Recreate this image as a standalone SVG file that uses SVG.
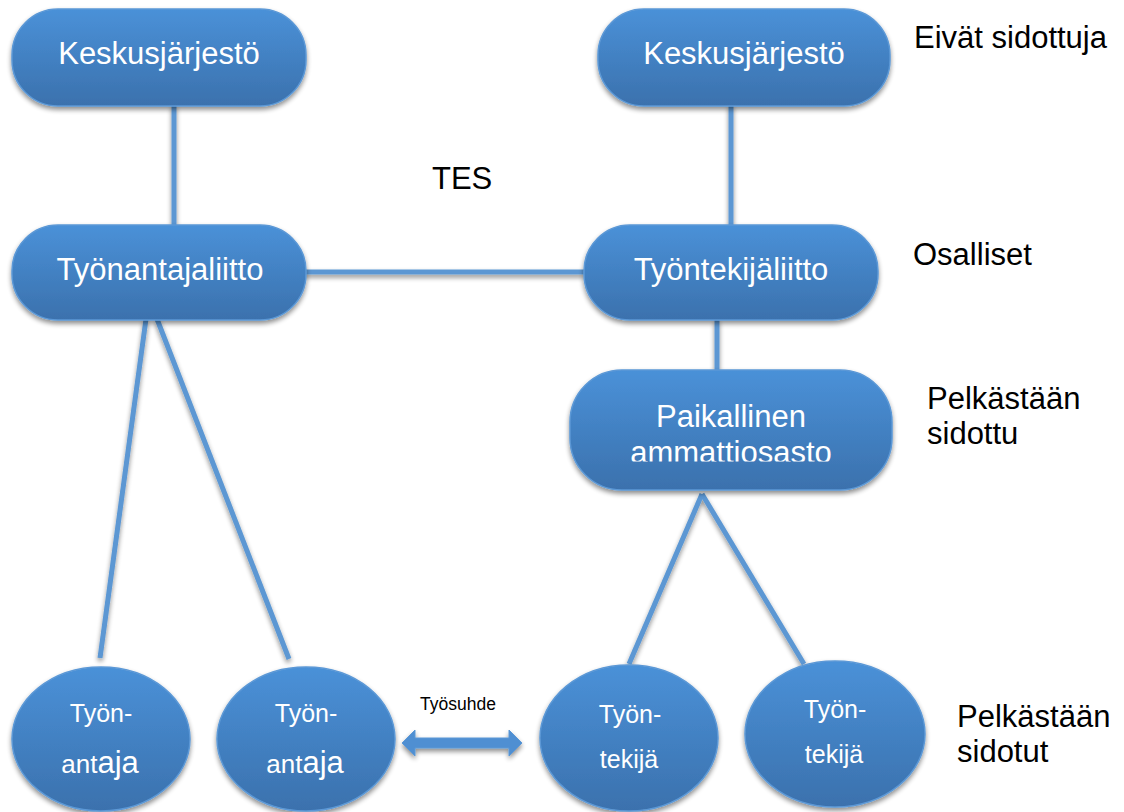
<svg xmlns="http://www.w3.org/2000/svg" width="1124" height="812" viewBox="0 0 1124 812">
<defs>
<linearGradient id="g" x1="0" y1="0" x2="0" y2="1">
<stop offset="0" stop-color="#4a91d8"/>
<stop offset="1" stop-color="#3b71ad"/>
</linearGradient>
<filter id="sh" x="-20%" y="-20%" width="140%" height="150%">
<feGaussianBlur in="SourceAlpha" stdDeviation="2.5"/>
<feOffset dx="0" dy="3" result="b"/>
<feComponentTransfer><feFuncA type="linear" slope="0.45"/></feComponentTransfer>
<feMerge><feMergeNode/><feMergeNode in="SourceGraphic"/></feMerge>
</filter>
<clipPath id="clipP"><rect x="570" y="370" width="322" height="91.5"/></clipPath>
<style>
.node{fill:url(#g);stroke:#5b98d6;stroke-width:1.5;filter:url(#sh)}
.nt{font-family:"Liberation Sans",Arial,sans-serif;fill:#ffffff;text-anchor:middle}
.lbl{font-family:"Liberation Sans",Arial,sans-serif;fill:#000000;font-size:31px}
.small{font-family:"Liberation Sans",Arial,sans-serif;fill:#000000;font-size:17.5px;text-anchor:middle}
.con{stroke:#5b97d3;stroke-width:5;fill:none}
</style>
</defs>
<rect width="1124" height="812" fill="#ffffff"/>
<g id="connectors" filter="url(#sh)">
<line class="con" x1="174" y1="104" x2="174" y2="226"/>
<line class="con" x1="731" y1="104" x2="731" y2="226"/>
<line class="con" x1="304" y1="272" x2="585" y2="272"/>
<line class="con" x1="717" y1="319" x2="717" y2="371"/>
<line class="con" x1="146" y1="319" x2="100" y2="658"/>
<line class="con" x1="157" y1="319" x2="289" y2="659"/>
<line class="con" x1="702" y1="494" x2="629" y2="664"/>
<line class="con" x1="702" y1="494" x2="804" y2="664"/>
<path d="M402,743 L415,730 L415,738 L509,738 L509,730 L522,743 L509,756 L509,748 L415,748 L415,756 Z" fill="#4f8fd2" stroke="#5b98d6" stroke-width="1"/>
</g>
<g id="n1"><rect class="node" x="12" y="9" width="294" height="97" rx="46"/><text class="nt" x="159" y="64" font-size="31">Keskusjärjestö</text></g>
<g id="n2"><rect class="node" x="598" y="9" width="292" height="97" rx="46"/><text class="nt" x="744" y="64" font-size="31">Keskusjärjestö</text></g>
<g id="n3"><rect class="node" x="12" y="225" width="294" height="95" rx="46"/><text class="nt" x="160" y="280" font-size="31">Työnantajaliitto</text></g>
<g id="n4"><rect class="node" x="584" y="225" width="294" height="95" rx="46"/><text class="nt" x="731" y="280" font-size="31">Työntekijäliitto</text></g>
<g id="n5"><rect class="node" x="570" y="370" width="322" height="120" rx="52"/><g clip-path="url(#clipP)"><text class="nt" x="731" y="427" font-size="31">Paikallinen</text><text class="nt" x="731" y="463" font-size="31">ammattiosasto</text></g></g>
<g id="n6"><ellipse class="node" cx="101" cy="739" rx="89" ry="72"/><text class="nt" x="101" y="722" font-size="25">Työn-</text><text class="nt" x="100" y="773" font-size="26">ant<tspan font-size="31">aja</tspan></text></g>
<g id="n7"><ellipse class="node" cx="306" cy="739" rx="89" ry="72"/><text class="nt" x="306" y="722" font-size="25">Työn-</text><text class="nt" x="305" y="773" font-size="26">ant<tspan font-size="31">aja</tspan></text></g>
<g id="n8"><ellipse class="node" cx="629" cy="738" rx="89" ry="73"/><text class="nt" x="630" y="723" font-size="25">Työn-</text><text class="nt" x="629" y="768" font-size="25">tekijä</text></g>
<g id="n9"><ellipse class="node" cx="835" cy="734" rx="90" ry="73"/><text class="nt" x="835" y="718" font-size="25">Työn-</text><text class="nt" x="834" y="763" font-size="25">tekijä</text></g>
<g id="labels">
<text class="lbl" x="914" y="48">Eivät sidottuja</text>
<text class="lbl" x="913" y="265">Osalliset</text>
<text class="lbl" x="927" y="409">Pelkästään</text>
<text class="lbl" x="927" y="444">sidottu</text>
<text class="lbl" x="957" y="727">Pelkästään</text>
<text class="lbl" x="957" y="762">sidotut</text>
<text class="lbl" x="432" y="189">TES</text>
<text class="small" x="458" y="710">Työsuhde</text>
</g>
</svg>
